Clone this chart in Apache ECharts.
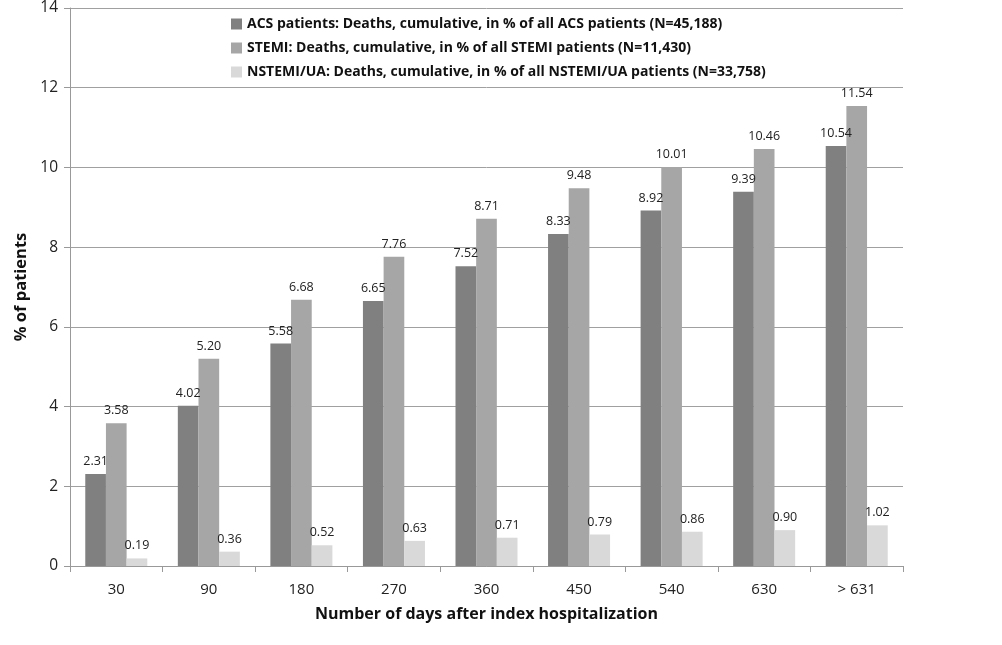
<!DOCTYPE html>
<html><head><meta charset="utf-8">
<script src="https://cdn.jsdelivr.net/npm/echarts@6/dist/echarts.min.js"></script>
<style>html,body{margin:0;padding:0;background:#fff}#c{width:1002px;height:645px}</style>
</head><body><div id="c"></div>
<script>
const categories = ['30','90','180','270','360','450','540','630','> 631'];
const acs = [2.31,4.02,5.58,6.65,7.52,8.33,8.92,9.39,10.54];
const stemi = [3.58,5.20,6.68,7.76,8.71,9.48,10.01,10.46,11.54];
const nstemi = [0.19,0.36,0.52,0.63,0.71,0.79,0.86,0.90,1.02];
const seriesNames = [
  'ACS patients: Deaths, cumulative, in % of all ACS patients (N=45,188)',
  'STEMI: Deaths, cumulative, in % of all STEMI patients (N=11,430)',
  'NSTEMI/UA: Deaths, cumulative, in % of all NSTEMI/UA patients (N=33,758)'
];
const colors = ['#808080','#a6a6a6','#d9d9d9'];
const FONT = 'Open Sans';
const chart = echarts.init(document.getElementById('c'));
const mk = (name, data, color) => ({
  name, type:'bar', data, barGap:'0%', barCategoryGap:'33%',
  itemStyle:{color},
  label:{show:true, position:'top', distance:6, color:'#222', fontSize:12.5, fontFamily:FONT,
    formatter:p=>p.value.toFixed(2)}
});
chart.setOption({
  animation:false,
  textStyle:{fontFamily:FONT},
  legend:{orient:'vertical', left:226, top:12, itemGap:10, itemWidth:11, itemHeight:11,
    icon:'rect',
    textStyle:{fontFamily:FONT, fontWeight:'bold', fontSize:14, color:'#111'}},
  grid:{left:70, right:99, top:7, bottom:79},
  xAxis:{type:'category', data:categories,
    axisLine:{lineStyle:{color:'#999'}},
    axisTick:{show:true, length:6, lineStyle:{color:'#999'}},
    axisLabel:{fontSize:15, color:'#222', margin:16, fontFamily:FONT},
    name:'Number of days after index hospitalization', nameLocation:'middle', nameGap:40,
    nameTextStyle:{fontSize:16, fontWeight:'bold', color:'#111', fontFamily:FONT}},
  yAxis:{type:'value', min:0, max:14, interval:2,
    axisLine:{show:true, lineStyle:{color:'#999'}},
    axisTick:{show:true, length:6, lineStyle:{color:'#999'}},
    splitLine:{lineStyle:{color:'#a0a0a0'}},
    axisLabel:{fontSize:15.5, color:'#222', margin:12, fontFamily:FONT},
    name:'% of patients', nameLocation:'middle', nameGap:32,
    nameTextStyle:{fontSize:16.5, fontWeight:'bold', color:'#111', fontFamily:FONT}},
  series:[mk(seriesNames[0],acs,colors[0]), mk(seriesNames[1],stemi,colors[1]), mk(seriesNames[2],nstemi,colors[2])]
});
</script></body></html>
